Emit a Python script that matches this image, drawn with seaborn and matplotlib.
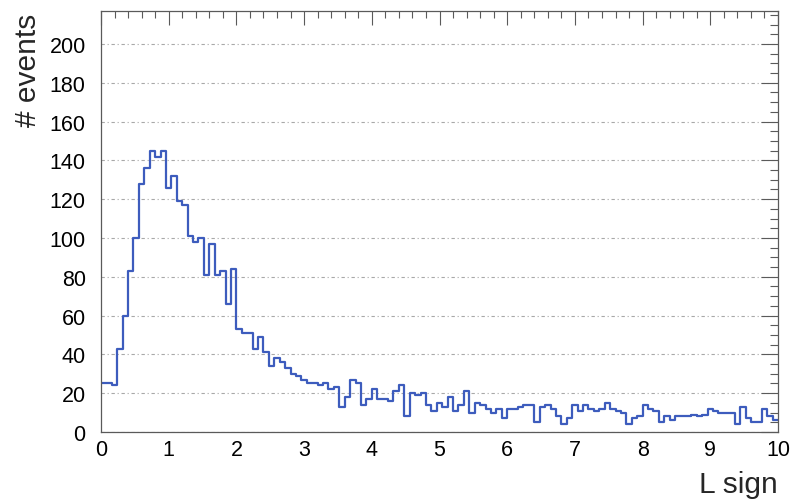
import numpy as np
import pandas as pd
import matplotlib
matplotlib.use("Agg")
import matplotlib.pyplot as plt
from matplotlib.ticker import MultipleLocator
import seaborn as sns

# Histogram range and binning of the "L sign" variable
x_min, x_max = 0.0, 10.0
n_bins = 125

# Event counts per bin (bin width 0.08)
counts = [
    25, 25, 24, 43, 60, 83, 100, 128, 136, 145,
    142, 145, 126, 132, 119, 117, 101, 98, 100, 81,
    97, 81, 83, 66, 84, 53, 51, 51, 43, 49,
    41, 34, 38, 36, 33, 30, 29, 27, 25, 25,
    24, 25, 22, 23, 13, 18, 27, 25, 14, 17,
    22, 17, 17, 16, 21, 24, 8, 20, 19, 20,
    14, 11, 15, 13, 18, 11, 14, 21, 10, 15,
    14, 12, 10, 12, 7, 12, 12, 13, 14, 14,
    5, 13, 14, 12, 8, 4, 7, 14, 11, 14,
    12, 11, 12, 15, 12, 11, 10, 4, 7, 8,
    14, 12, 11, 5, 8, 6, 8, 8, 8, 9,
    8, 9, 12, 11, 10, 10, 10, 4, 13, 7,
    5, 5, 12, 8, 6,
]

x_label = "L sign"
y_label = "# events"
y_max = 217

edges = np.linspace(x_min, x_max, n_bins + 1)
centers = 0.5 * (edges[:-1] + edges[1:])
df = pd.DataFrame({"L_sign": centers, "events": counts})

sns.set_theme(style="white")
plt.rcParams["font.family"] = ["Liberation Sans", "DejaVu Sans"]

W, H = 794, 502
fig = plt.figure(figsize=(W / 100, H / 100), dpi=100)
ax = fig.add_axes([101 / W, 69 / H, 677 / W, 421 / H])

sns.histplot(
    data=df, x="L_sign", weights="events",
    bins=n_bins, binrange=(x_min, x_max),
    element="step", fill=False, color="#3d5cbd", linewidth=1.6, ax=ax,
)

ax.set_xlim(x_min, x_max)
ax.set_ylim(0, y_max)
ax.set_xlabel("")
ax.set_ylabel("")

# ROOT-like frame: inward ticks on all four sides
ax.xaxis.set_major_locator(MultipleLocator(1))
ax.xaxis.set_minor_locator(MultipleLocator(0.2))
ax.yaxis.set_major_locator(MultipleLocator(20))
ax.yaxis.set_minor_locator(MultipleLocator(5))
frame_col = "#5a5a5a"
ax.tick_params(which="both", direction="in", top=True, right=True,
               color=frame_col, width=0.8, labelcolor="black", labelsize=15.5)
ax.tick_params(axis="y", which="major", length=12.0, pad=11)
ax.tick_params(axis="y", which="minor", length=6.0)
ax.tick_params(axis="x", which="major", length=10.0, pad=5)
ax.tick_params(axis="x", which="minor", length=5.0)
for sp in ax.spines.values():
    sp.set_color(frame_col)
    sp.set_linewidth(0.9)

ax.set_axisbelow(True)
ax.grid(axis="y", which="major", color="#a8a8a8",
        linestyle=(0, (3, 2.5, 1, 2.5)), linewidth=0.8)
ax.grid(axis="x", visible=False)

fig.text(778 / W, 1 - 493 / H, x_label, ha="right", va="baseline", fontsize=21.5)
fig.text(28 / W, 1 - 14 / H, y_label, ha="center", va="top", rotation=90,
         fontsize=21.5)

fig.savefig("out.png", dpi=100)
